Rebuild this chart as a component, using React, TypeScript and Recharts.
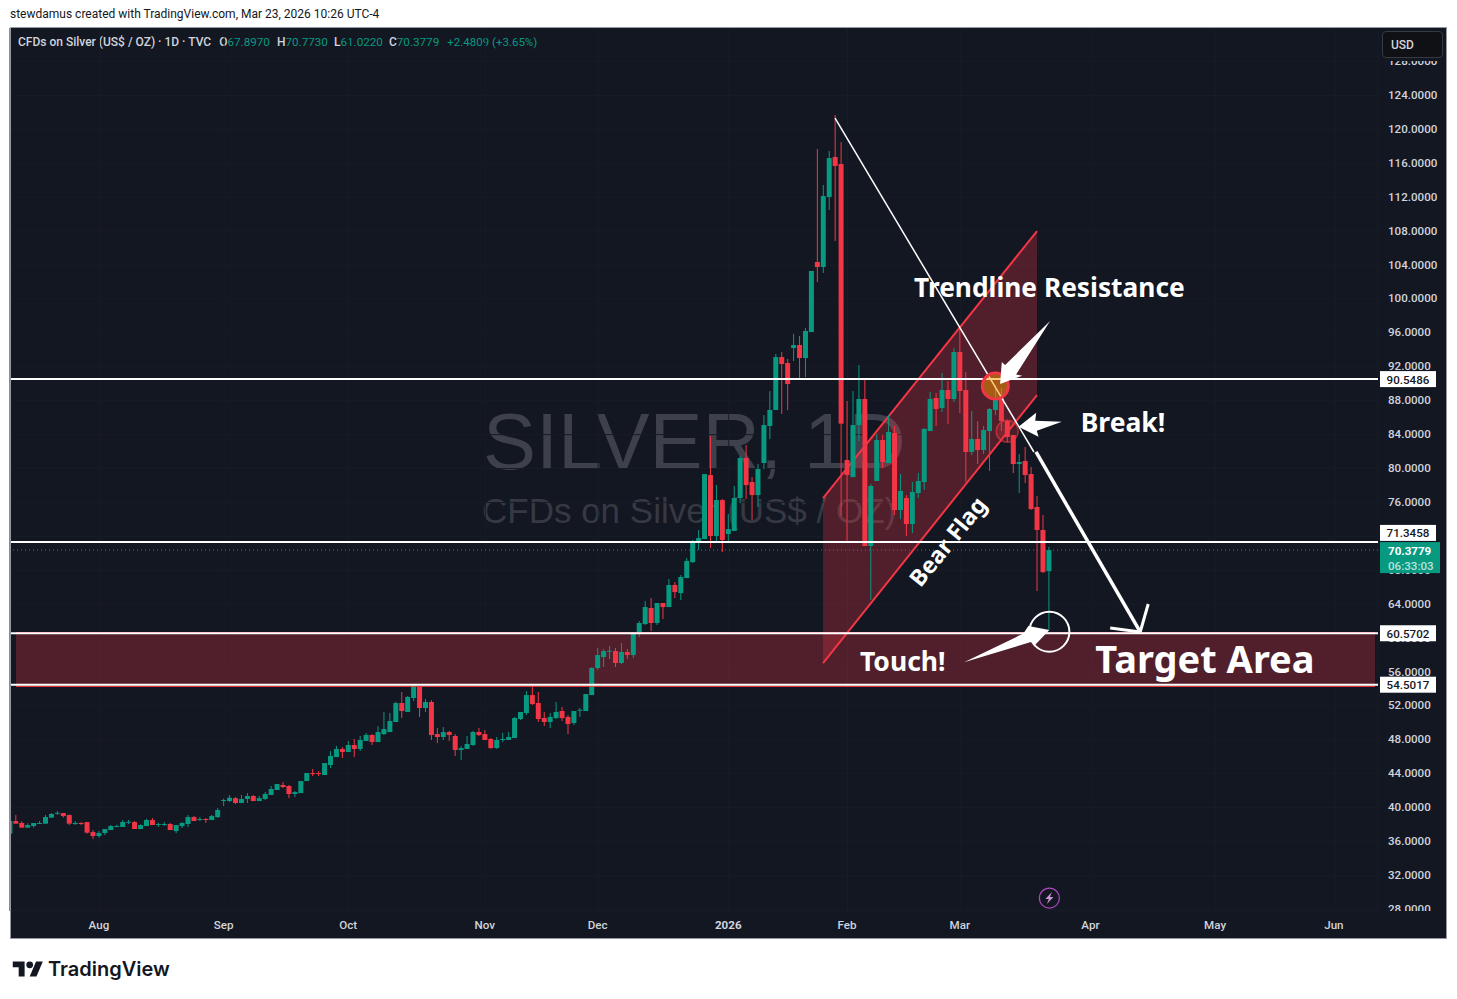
import React from "react";
import {
  ComposedChart, Bar, XAxis, YAxis, CartesianGrid, ReferenceLine, ReferenceArea, ReferenceDot,
} from "recharts";

const opens = [
  36.93,38.42,38.19,37.64,37.83,38.11,38.11,38.82,39.33,39.37,
  39.13,38.11,38.19,38.30,37.12,36.65,37.01,37.36,37.72,37.72,
  38.23,38.30,37.48,37.83,38.54,37.99,37.99,38.07,37.24,37.83,
  38.07,38.89,38.58,38.66,38.54,38.89,40.82,40.78,41.12,40.55,
  41.02,41.37,40.78,41.02,41.49,42.08,42.67,42.55,41.61,41.72,
  43.14,44.08,44.08,43.85,45.03,45.97,46.92,46.56,47.39,46.92,
  47.86,48.57,47.74,48.68,48.92,50.10,52.34,51.28,52.93,54.23,
  51.75,52.46,48.68,48.33,48.92,48.45,46.80,46.92,47.39,48.92,
  48.68,48.10,47.03,47.98,47.98,48.21,50.45,51.16,53.28,52.34,
  50.57,50.10,50.57,51.40,50.69,49.98,51.44,51.40,53.28,56.47,
  57.77,58.40,58.47,57.06,58.36,58.00,60.60,61.66,63.55,61.78,
  64.14,63.66,66.26,65.31,67.08,68.97,71.33,71.68,79.23,72.04,
  76.28,72.27,72.63,76.52,81.24,78.41,76.87,80.65,85.02,86.90,
  93.15,92.45,94.21,94.57,93.03,96.10,104.36,103.77,112.02,116.74,
  115.92,81.00,78.99,85.13,88.20,70.86,78.53,83.36,80.65,84.19,
  75.10,76.52,73.45,77.11,78.41,84.42,88.32,87.14,89.26,88.20,
  93.74,89.26,81.95,83.48,82.18,84.42,86.90,88.32,85.60,83.95,
  80.53,80.89,79.35,75.46,72.75,67.897,
];
const highs = [
  38.42,39.13,38.42,38.15,38.19,38.42,39.13,39.37,39.60,39.37,
  39.21,38.42,38.30,38.30,37.36,37.24,37.48,37.95,37.99,38.54,
  38.54,38.42,38.03,38.66,38.78,38.23,38.30,38.19,37.95,38.30,
  39.13,39.01,38.89,38.78,39.13,39.96,41.06,41.49,41.25,41.49,
  41.72,41.49,41.37,41.84,42.55,42.79,43.02,42.67,41.96,43.14,
  44.08,44.56,44.32,45.26,46.68,47.27,47.15,47.86,48.10,48.45,
  48.80,48.68,49.63,51.28,51.16,52.46,53.64,53.17,54.46,54.46,
  52.81,52.69,49.39,49.51,49.04,48.68,47.27,48.45,49.04,49.39,
  49.16,48.21,48.33,48.80,48.92,50.69,51.28,53.76,54.46,53.64,
  51.28,51.16,52.46,51.87,50.92,51.40,51.75,53.40,56.59,58.83,
  58.71,59.06,58.83,59.42,58.71,60.72,62.01,64.37,64.72,64.14,
  64.14,66.97,66.61,67.44,69.44,71.57,72.75,79.35,83.83,78.05,
  76.40,74.63,77.94,81.47,82.77,79.00,80.53,86.31,89.14,93.51,
  93.74,92.92,95.86,95.63,96.57,103.30,117.69,113.44,117.45,121.70,
  118.51,87.96,89.14,92.21,90.44,78.17,84.07,83.95,86.31,85.01,
  79.35,76.87,78.41,79.47,84.78,89.02,88.90,91.26,90.32,94.21,
  96.69,91.38,86.78,85.60,85.01,87.14,89.85,89.46,85.72,83.95,
  81.71,82.54,80.18,76.76,74.52,70.773,
];
const lows = [
  36.93,38.11,37.64,37.64,37.64,38.11,38.11,38.82,39.13,38.82,
  37.95,37.95,37.95,36.93,36.30,36.46,36.77,37.36,37.72,37.72,
  38.07,37.48,37.48,37.83,37.95,37.72,37.83,37.36,37.01,37.60,
  37.72,38.42,38.42,38.19,38.54,38.78,40.19,40.66,40.43,40.55,
  40.55,40.78,40.78,40.90,41.49,42.08,42.32,41.12,41.25,41.72,
  43.14,43.73,43.73,43.85,44.67,45.97,45.85,46.56,45.97,46.68,
  47.86,47.39,47.74,48.57,48.92,50.10,50.57,51.28,52.58,50.69,
  51.28,47.98,47.62,47.98,47.86,46.09,45.62,46.92,47.27,48.45,
  47.98,46.92,46.92,47.74,47.98,48.21,50.33,50.92,52.10,50.10,
  49.63,49.39,50.45,50.22,48.68,49.75,50.69,51.40,53.28,56.23,
  56.59,57.53,56.59,56.94,57.53,57.65,60.13,61.54,60.83,61.54,
  62.25,63.66,64.72,64.49,67.08,68.85,70.39,71.68,70.62,71.21,
  70.15,71.33,72.63,75.93,76.40,73.93,75.46,79.94,83.48,86.90,
  86.43,86.90,92.68,90.44,90.79,96.10,102.00,103.06,110.49,106.83,
  74.40,71.45,78.99,83.24,70.86,64.50,78.53,80.06,80.65,74.52,
  74.04,72.04,72.39,76.52,77.47,84.42,85.01,86.66,85.25,87.84,
  86.55,78.41,81.59,80.53,81.71,79.71,86.30,84.42,83.13,79.47,
  77.11,78.29,75.11,65.55,67.68,61.022,
];
const closes = [
  38.42,38.11,37.64,37.95,38.19,38.19,38.89,39.25,39.40,39.01,
  38.11,38.19,38.11,37.05,36.65,37.01,37.48,37.83,37.83,38.30,
  38.34,37.48,37.95,38.54,37.95,38.07,38.07,37.36,37.95,38.19,
  38.89,38.42,38.66,38.58,39.01,39.72,40.90,41.17,40.55,41.02,
  41.37,40.78,41.12,41.61,42.20,42.79,42.43,41.61,41.84,43.14,
  44.08,43.97,43.97,45.26,46.09,46.92,46.56,47.39,46.92,47.98,
  48.57,47.74,48.92,49.27,50.22,52.34,51.40,53.05,54.46,51.75,
  52.46,48.57,48.33,48.92,48.57,46.80,47.03,47.51,48.92,48.57,
  47.98,47.03,47.98,48.10,48.33,50.57,51.28,53.28,52.22,50.45,
  50.10,50.69,51.28,50.57,49.86,51.40,51.55,53.40,56.47,58.00,
  58.47,58.51,57.06,58.36,58.00,60.72,61.78,63.66,61.78,64.14,
  63.66,66.26,65.43,67.20,69.09,71.45,71.80,79.35,72.04,76.28,
  71.57,72.86,76.52,81.24,78.05,76.87,79.94,85.13,86.90,93.15,
  92.33,89.97,94.57,93.03,96.22,103.30,103.77,112.14,116.62,115.68,
  85.29,79.23,85.13,88.20,70.86,77.94,83.36,80.77,84.31,75.10,
  77.35,73.45,77.23,78.53,84.66,88.20,87.02,89.26,88.20,93.74,
  89.14,81.95,83.48,82.18,84.54,87.02,88.32,85.60,83.72,80.53,
  80.77,79.23,75.22,72.75,67.79,70.3779,
];
const monthTicks = [15, 36, 57, 80, 99, 121, 141, 160, 182, 203, 223];
const monthLabels = ["Aug", "Sep", "Oct", "Nov", "Dec", "2026", "Feb", "Mar", "Apr", "May", "Jun"];
const priceTicks = [28,32,36,40,44,48,52,56,60,64,68,72,76,80,84,88,92,96,100,104,108,112,116,120,124,128];

const levelPrices = [90.5486, 71.3458, 60.5702, 54.5017];
const lastPrice = 70.3779;
const xDomain = [-0.06, 230.35];
const yDomain = [27.81, 131.96];

const GREEN = "#089981";
const RED = "#f23645";
const BG = "#131722";

const candles = opens.map((o, i) => ({ i, o, h: highs[i], l: lows[i], c: closes[i] }));

function Candle(props: any) {
  const { x, y, width, height, payload } = props;
  const { o, h, l, c } = payload;
  const color = c >= o ? GREEN : RED;
  const k = height / (h - l);
  const top = y + (h - Math.max(o, c)) * k;
  const bh = Math.max(1, Math.abs(o - c) * k);
  const cx = x + width / 2;
  return (
    <g>
      <rect x={cx - 0.5} y={y} width={1} height={height} fill={color} />
      <rect x={x} y={top} width={width} height={bh} fill={color} />
    </g>
  );
}

function MonthTick(props: any) {
  const { x, y, payload } = props;
  const label = monthLabels[monthTicks.indexOf(payload.value)];
  return (
    <text x={x - 0.5} y={y} dy={10} textAnchor="middle" fill="#d1d4dc" fontSize={11.6}
      fontFamily="Roboto" fontWeight={label === "2026" ? 700 : 500}>{label}</text>
  );
}

function PriceTick(props: any) {
  const { x, y, payload } = props;
  return (
    <text x={x} y={y - 0.5} dy={4} textAnchor="start" fill="#d1d4dc" fontSize={11.6}
      fontFamily="Roboto" fontWeight={500}>{payload.value.toFixed(4)}</text>
  );
}

const polyShape = (pts: number[][]) => (p: any) => (
  <polygon points={pts.map(([a, b]) => `${p.cx + a},${p.cy + b}`).join(" ")} fill="#ffffff" />
);
const textShape = (s: string, size: number, rotate = 0) => (p: any) => (
  <text x={p.cx} y={p.cy} textAnchor="middle" dominantBaseline="central" fill="#ffffff"
    fontSize={size} fontWeight={700} fontFamily="'Noto Sans'"
    transform={rotate ? `rotate(${rotate} ${p.cx} ${p.cy})` : undefined}>{s}</text>
);
const tagShape = (s: string, shift = 0) => (p: any) => (
  <g>
    <rect x={p.cx + 2} y={p.cy - 8 + shift} width={56} height={16} fill="#ffffff" />
    <text x={p.cx + 30} y={p.cy + shift} dy={4.5} textAnchor="middle" fill={BG} fontSize={11.6} fontFamily="Roboto" fontWeight={500}>{s}</text>
  </g>
);
const lastTag = (p: any) => (
  <g>
    <rect x={p.cx + 2} y={p.cy - 8} width={60} height={31} fill={GREEN} />
    <text x={p.cx + 10} y={p.cy} dy={4.5} fill="#ffffff" fontSize={11.6} fontFamily="Roboto" fontWeight={700}>70.3779</text>
    <text x={p.cx + 10} y={p.cy + 15} dy={4.5} fill="#b9e2da" fontSize={11.6} fontFamily="Roboto" fontWeight={500}>06:33:03</text>
  </g>
);
const channelUpper = [76.52, 108.01];
const channelLower = [57.06, 88.67];
const channelShape = (p: any) => {
  const { x, y, width, height } = p;
  const top = channelUpper[1];
  const span = channelUpper[1] - channelLower[0];
  const py = (v: number) => y + ((top - v) / span) * height;
  const r = x + width;
  return (
    <g>
      <polygon points={`${x},${py(channelUpper[0])} ${r},${py(channelUpper[1])} ${r},${py(channelLower[1])} ${x},${py(channelLower[0])}`}
        fill={RED} fillOpacity={0.28} />
      <line x1={x} y1={py(channelUpper[0])} x2={r} y2={py(channelUpper[1])} stroke={RED} strokeWidth={2} />
      <line x1={x} y1={py(channelLower[0])} x2={r} y2={py(channelLower[1])} stroke={RED} strokeWidth={2} />
    </g>
  );
};
const barbs = (p: any) => (
  <g stroke="#ffffff" strokeWidth={3} fill="none">
    <line x1={p.cx} y1={p.cy} x2={p.cx + 8} y2={p.cy - 28} />
    <line x1={p.cx} y1={p.cy} x2={p.cx - 30} y2={p.cy - 4} />
  </g>
);
const bolt = (p: any) => (
  <g>
    <circle cx={p.cx} cy={p.cy} r={10} fill={BG} stroke="#ab47bc" strokeWidth={1.2} />
    <path d={`M${p.cx + 2.5} ${p.cy - 6} L${p.cx - 4} ${p.cy + 1} L${p.cx - 0.5} ${p.cy + 1} L${p.cx - 2.5} ${p.cy + 6} L${p.cx + 4} ${p.cy - 1} L${p.cx + 0.5} ${p.cy - 1} Z`} fill="#ce93d8" />
  </g>
);

export default function App() {
  return (
    <div style={{ position: "absolute", left: 0, top: 0, width: 1457, height: 999, background: "#ffffff", overflow: "hidden" }}>
      <div style={{ position: "absolute", left: 10, top: 7, fontFamily: "Roboto", fontSize: 12, color: "#131722", whiteSpace: "nowrap" }}>
        stewdamus created with TradingView.com, Mar 23, 2026 10:26 UTC-4
      </div>
      <div style={{ position: "absolute", left: 10, top: 27, width: 1437, height: 912, background: BG }} />
      <div style={{ position: "absolute", left: 483, top: 397, width: 422, textAlign: "center", fontFamily: "'Liberation Sans'", fontSize: 79.5, lineHeight: "90px", color: "#3e414c", whiteSpace: "nowrap" }}>SILVER, 1D</div>
      <div style={{ position: "absolute", left: 482, top: 490, width: 413, textAlign: "center", fontFamily: "'Liberation Sans'", fontSize: 35, lineHeight: "42px", color: "#363943", whiteSpace: "nowrap" }}>CFDs on Silver (US$ / OZ)</div>
      <div style={{ position: "absolute", left: 18, top: 35, fontFamily: "Roboto", fontSize: 12, fontWeight: 500, color: "#d1d4dc", whiteSpace: "pre" }}>
        {"CFDs on Silver (US$ / OZ) · 1D · TVC"}<span style={{ marginLeft: 8 }}>O</span><span style={{ color: GREEN, fontWeight: 400, fontSize: 11.7 }}>67.8970</span><span style={{ marginLeft: 7 }}>H</span><span style={{ color: GREEN, fontWeight: 400, fontSize: 11.7 }}>70.7730</span><span style={{ marginLeft: 6 }}>L</span><span style={{ color: GREEN, fontWeight: 400, fontSize: 11.7 }}>61.0220</span><span style={{ marginLeft: 6 }}>C</span><span style={{ color: GREEN, fontWeight: 400, fontSize: 11.7 }}>70.3779</span><span style={{ color: GREEN, fontWeight: 400, fontSize: 11.5, marginLeft: 8 }}>+2.4809 (+3.65%)</span>
      </div>
      <div style={{ position: "absolute", left: 0, top: 0 }}>
        <ComposedChart width={1457} height={999} data={candles} margin={{ top: 28, right: 0, bottom: 61, left: 10 }}>
          <CartesianGrid stroke="#181c27" strokeWidth={1} />
          <XAxis dataKey="i" type="number" domain={xDomain} allowDataOverflow ticks={monthTicks} interval={0}
            axisLine={false} tickLine={false} height={27} tick={MonthTick} />
          <YAxis orientation="right" type="number" domain={yDomain} allowDataOverflow ticks={priceTicks} interval={0}
            axisLine={false} tickLine={false} width={79} tickMargin={4} tick={PriceTick} />
          <Bar dataKey={(d: any) => [d.l, d.h]} barSize={5} shape={Candle} isAnimationActive={false} />

          <ReferenceArea x1={0.95} x2={229.85} y1={54.35} y2={60.6} fill={RED} fillOpacity={0.28} />
          <ReferenceLine segment={[{ x: 0.95, y: 54.3 }, { x: 229.85, y: 54.3 }]} stroke={RED} strokeWidth={1} />
          <ReferenceLine segment={[{ x: 0.95, y: 60.65 }, { x: 229.85, y: 60.65 }]} stroke={RED} strokeWidth={1} />
          <ReferenceArea x1={136.88} x2={172.92} y1={channelLower[0]} y2={channelUpper[1]} shape={channelShape} />

          <ReferenceLine y={lastPrice} stroke={GREEN} strokeDasharray="1 3" strokeWidth={1} />
          {levelPrices.map((p) => (
            <ReferenceLine key={p} y={p} stroke="#ffffff" strokeWidth={2} />
          ))}
          <ReferenceLine segment={[{ x: 138.9, y: 121.34 }, { x: 172.4, y: 81.95 }]} stroke="#ffffff" strokeWidth={1.5} ifOverflow="visible" />
          <ReferenceLine segment={[{ x: 172.75, y: 81.95 }, { x: 190.3, y: 60.72 }]} stroke="#ffffff" strokeWidth={3.5} ifOverflow="visible" />
          <ReferenceDot x={190.3} y={60.72} shape={barbs} />

          <ReferenceDot x={165.9} y={89.73} r={13} fill="#ff9800" fillOpacity={0.5} stroke={RED} strokeWidth={3} />
          <ReferenceDot x={167.9} y={84.39} r={11} fill={RED} fillOpacity={0.25} stroke={RED} strokeOpacity={0.6} strokeWidth={1.5} />
          <ReferenceDot x={175} y={60.75} r={20} fill="none" stroke="#ffffff" strokeWidth={2} />

          <ReferenceDot x={166.7} y={89.97} shape={polyShape([[50, -63], [16, -9.5], [22, -8.3], [0, 0], [1.7, -22], [5, -19]])} />
          <ReferenceDot x={169.8} y={84.93} shape={polyShape([[0, 0], [17.7, -14], [16.7, -6], [43.3, -5], [18.3, 4], [20, 10]])} />
          <ReferenceDot x={175} y={60.95} shape={polyShape([[-85.3, 32.3], [-26, 3.5], [-21, -4], [0, 0], [-15.3, 16], [-17.6, 11.7]])} />

          <ReferenceDot x={175} y={101.41} shape={textShape("Trendline Resistance", 26.3)} />
          <ReferenceDot x={187.4} y={85.49} shape={textShape("Break!", 26.5)} />
          <ReferenceDot x={150.3} y={57.3} shape={textShape("Touch!", 26.5)} />
          <ReferenceDot x={201.2} y={57.65} shape={textShape("Target Area", 38)} />
          <ReferenceDot x={157.8} y={71.45} shape={textShape("Bear Flag", 23, -51)} />
          <ReferenceDot x={175} y={29.34} shape={bolt} />
        </ComposedChart>
      </div>
      <div style={{ position: "absolute", left: 1382, top: 911, width: 62, height: 7, background: BG }} />
      <div style={{ position: "absolute", left: 1382, top: 56, width: 62, height: 4.5, background: BG }} />
      <div style={{ position: "absolute", left: 0, top: 0 }}>
        <ComposedChart width={1457} height={999} data={candles} margin={{ top: 28, right: 79, bottom: 88, left: 10 }}>
          <XAxis dataKey="i" type="number" domain={xDomain} allowDataOverflow hide />
          <YAxis type="number" domain={yDomain} allowDataOverflow hide />
          <ReferenceDot x={xDomain[1]} y={levelPrices[0]} shape={tagShape("90.5486")} ifOverflow="visible" />
          <ReferenceDot x={xDomain[1]} y={levelPrices[1]} shape={tagShape("71.3458", -9)} ifOverflow="visible" />
          <ReferenceDot x={xDomain[1]} y={levelPrices[2]} shape={tagShape("60.5702")} ifOverflow="visible" />
          <ReferenceDot x={xDomain[1]} y={levelPrices[3]} shape={tagShape("54.5017")} ifOverflow="visible" />
          <ReferenceDot x={xDomain[1]} y={lastPrice} shape={lastTag} ifOverflow="visible" />
        </ComposedChart>
      </div>
      <div style={{ position: "absolute", left: 10, top: 27, width: 1435, height: 910, border: "1px solid #9598a1", pointerEvents: "none" }} />
      <div style={{ position: "absolute", left: 1382, top: 31, width: 59, height: 25, background: "#101114", border: "1px solid #363a45", borderRadius: 4, color: "#d1d4dc", fontFamily: "Roboto", fontSize: 12, fontWeight: 500, lineHeight: "27px", textIndent: 8 }}>USD</div>
      <svg style={{ position: "absolute", left: 12, top: 958 }} width={32} height={22} viewBox="0 0 36 26">
        <path d="M14 22H7V11H0V4h14v18zM28 22h-8l7.5-18h8L28 22z" fill="#131722" />
        <circle cx={20} cy={8} r={4} fill="#131722" />
      </svg>
      <div style={{ position: "absolute", left: 48, top: 955, fontFamily: "Inter", fontSize: 20, fontWeight: 600, color: "#131722", lineHeight: "28px" }}>TradingView</div>
    </div>
  );
}
